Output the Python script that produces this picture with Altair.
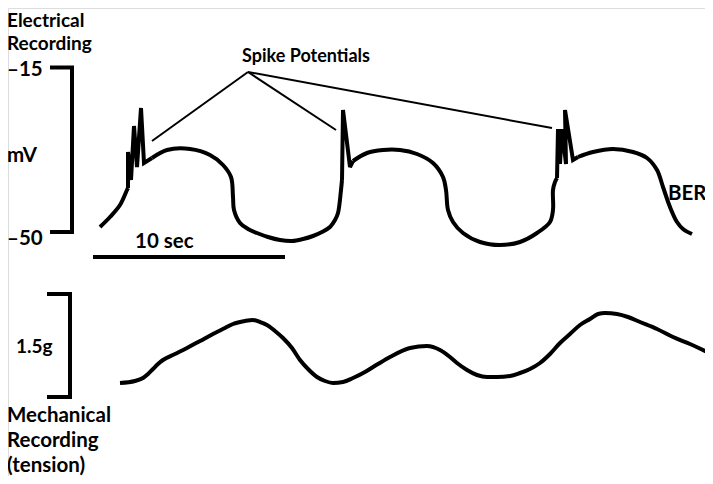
import altair as alt
import pandas as pd

# ---- Electrical recording trace (canvas units) ----
elec_x = [100, 110, 120, 127, 128, 128, 131, 134, 137, 141, 144, 152, 167, 190, 210, 223, 231,
          233, 234, 240, 248, 257, 268, 280, 292, 303, 313, 322, 330, 335, 338, 341, 342, 343,
          350, 353, 367, 383, 400, 417, 433, 443, 446, 448, 453, 463, 480, 500, 520, 537, 550,
          553, 553, 555, 557, 558, 560, 562, 566, 565, 573, 578, 593, 613, 633, 647, 657, 663,
          670, 677, 683, 692]
elec_y = [227, 217, 205, 190, 188, 152, 180, 126, 167, 108, 163, 158, 150, 149, 155, 165, 177,
          197, 210, 223, 229, 233, 237, 240, 241, 239, 236, 232, 227, 220, 213, 190, 180, 110,
          167, 161, 153, 150, 150, 154, 163, 177, 190, 210, 222, 233, 242, 245, 242, 233, 222,
          210, 190, 182, 178, 129, 164, 129, 164, 110, 160, 157, 152, 149, 152, 158, 170, 187,
          207, 222, 229, 234]
# index ranges (inclusive) of the spike bursts within the trace
spike_ranges = [(4, 11), (32, 35), (54, 61)]

# ---- Mechanical recording (tension) trace ----
mech_x = [120, 135, 143, 148, 153, 158, 163, 175, 187, 200, 213, 225, 233, 245, 253, 260, 267,
          275, 283, 292, 300, 308, 317, 325, 333, 343, 353, 365, 378, 390, 410, 427, 440, 450,
          457, 467, 477, 487, 497, 510, 520, 530, 540, 550, 560, 570, 580, 590, 598, 605, 617,
          628, 640, 657, 673, 690, 707]
mech_y = [383, 381, 378, 374, 369, 364, 360, 354, 348, 341, 334, 328, 324, 321, 320, 322, 325,
          331, 338, 348, 360, 369, 377, 381, 383, 382, 378, 372, 364, 357, 348, 346, 350, 357,
          363, 370, 375, 377, 377, 376, 373, 369, 363, 354, 343, 334, 325, 319, 314, 313, 314,
          317, 322, 329, 337, 344, 352]

# ---- Scale brackets and time bar ----
bracket_group = ["mV", "mV", "mV", "mV", "g", "g", "g", "g", "sec", "sec"]
bracket_x = [50, 72, 72, 50, 47, 70, 70, 47, 93, 285]
bracket_y = [67.5, 67.5, 232, 232, 294, 294, 397, 397, 257, 257]

# ---- Pointer lines from the "Spike Potentials" label ----
ptr_x = [248, 248, 248]
ptr_y = [72, 72, 72]
ptr_x2 = [152, 336, 552]
ptr_y2 = [141, 130, 128]

# ---- Labels ----
head_text = ["Electrical", "Recording"]
head_x = [7, 7]
head_y = [27, 50]
big_text = ["–15", "mV", "–50", "10 sec", "BER", "Mechanical", "Recording", "(tension)"]
big_x = [7, 7, 7, 135, 668, 7, 7, 7]
big_y = [76, 162, 245, 248, 200, 422, 447, 472]
small_text = ["Spike Potentials", "1.5g"]
small_x = [306, 16]
small_y = [62, 353]

# build smooth and spike segments of the electrical trace
smooth_rows, spike_rows = [], []
bounds = [0]
for a, b in spike_ranges:
    bounds += [a, b]
bounds.append(len(elec_x) - 1)
for k in range(0, len(bounds), 2):
    a, b = bounds[k], bounds[k + 1]
    for i in range(a, b + 1):
        smooth_rows.append({"x": elec_x[i], "y": elec_y[i], "s": k, "i": i})
for k, (a, b) in enumerate(spike_ranges):
    for i in range(a, b + 1):
        spike_rows.append({"x": elec_x[i], "y": elec_y[i], "s": k, "i": i})
elec_smooth = pd.DataFrame(smooth_rows)
elec_spike = pd.DataFrame(spike_rows)

mech = pd.DataFrame({"x": mech_x, "y": mech_y, "i": range(len(mech_x))})
brk = pd.DataFrame({"x": bracket_x, "y": bracket_y, "g": bracket_group,
                    "i": range(len(bracket_x))})
ptr = pd.DataFrame({"x": ptr_x, "y": ptr_y, "x2": ptr_x2, "y2": ptr_y2})
head = pd.DataFrame({"x": head_x, "y": head_y, "t": head_text})
big = pd.DataFrame({"x": big_x, "y": big_y, "t": big_text})
small = pd.DataFrame({"x": small_x, "y": small_y, "t": small_text})

xs = alt.Scale(domain=[8, 705], nice=False, zero=False)
ys = alt.Scale(domain=[8, 476], nice=False, zero=False, reverse=True)
X = alt.X("x:Q", scale=xs, axis=None)
Y = alt.Y("y:Q", scale=ys, axis=None)

trace_e1 = alt.Chart(elec_smooth).mark_line(color="black", strokeWidth=4,
                                            interpolate="catmull-rom").encode(
    x=X, y=Y, detail="s:N", order="i:Q")
trace_e2 = alt.Chart(elec_spike).mark_line(color="black", strokeWidth=4, strokeJoin="miter",
                                           strokeMiterLimit=3).encode(
    x=X, y=Y, detail="s:N", order="i:Q")
trace_m = alt.Chart(mech).mark_line(color="black", strokeWidth=4, interpolate="monotone").encode(
    x=X, y=Y, order="i:Q")
brackets = alt.Chart(brk).mark_line(color="black", strokeWidth=4, strokeJoin="miter").encode(
    x=X, y=Y, detail="g:N", order="i:Q")
pointers = alt.Chart(ptr).mark_rule(color="black", strokeWidth=2).encode(
    x=X, y=Y, x2="x2:Q", y2="y2:Q")
t_head = alt.Chart(head).mark_text(font="Lato", fontWeight="bold", fontSize=19, align="left",
                                   baseline="alphabetic", color="black").encode(x=X, y=Y, text="t:N")
t_big = alt.Chart(big).mark_text(font="Lato", fontWeight="bold", fontSize=20.5, align="left",
                                 baseline="alphabetic", color="black").encode(x=X, y=Y, text="t:N")
t_spike = alt.Chart(small.iloc[[0]]).mark_text(font="Lato", fontWeight="bold", fontSize=18,
                                               align="center", baseline="alphabetic",
                                               color="black").encode(x=X, y=Y, text="t:N")
t_g = alt.Chart(small.iloc[[1]]).mark_text(font="Lato", fontWeight="bold", fontSize=19,
                                           align="left", baseline="alphabetic",
                                           color="black").encode(x=X, y=Y, text="t:N")

chart = alt.layer(trace_e1, trace_e2, trace_m, brackets, pointers, t_head, t_big, t_spike,
                  t_g).properties(
    width=697, height=468, autosize=alt.AutoSizeParams(type="none"), padding=0
).configure_view(stroke=None).configure(background="white")

chart.save("out.html", embed_options={"renderer": "svg", "actions": False})
